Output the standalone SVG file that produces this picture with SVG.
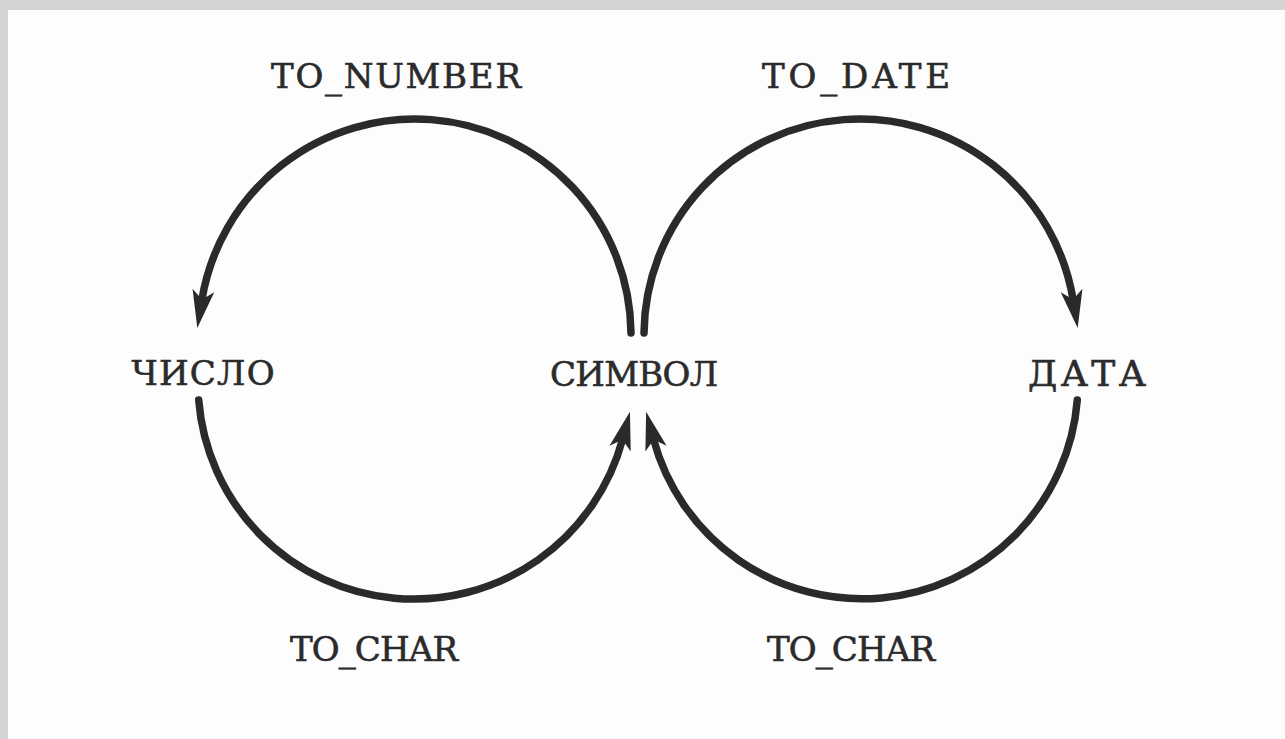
<svg xmlns="http://www.w3.org/2000/svg" width="1285" height="739" viewBox="0 0 1285 739">
<style>
.lbl{font-family:"DejaVu Serif","Liberation Serif",serif;font-size:34px;fill:#2b2b2b;stroke:#2b2b2b;stroke-width:0.6;text-anchor:middle}
.arc{fill:none;stroke:#2a2a2a;stroke-width:7.5;stroke-linecap:round;marker-end:url(#ah)}
</style>
<defs>
<marker id="ah" markerUnits="userSpaceOnUse" markerWidth="40" markerHeight="30" viewBox="-40 -15 40 30" refX="-28" refY="0" orient="auto">
<path d="M0,0 L-38,-11 L-29,0 L-38,11 Z" fill="#2a2a2a"/>
</marker>
</defs>
<rect x="0" y="0" width="1285" height="739" fill="#d4d4d4"/>
<rect x="8" y="10" width="1277" height="729" fill="#fdfdfd"/>
<g id="connectors">
<path id="to_number" class="arc" d="M631,333 A216,216 0 0 0 201.8,300.4"/>
<path id="to_date" class="arc" d="M644,333 A216,216 0 0 1 1073.2,300.4"/>
<path id="to_char_num" class="arc" d="M198.7,400 A216,216 0 0 0 622.7,438.9"/>
<path id="to_char_date" class="arc" d="M1077.3,400 A216,216 0 0 1 653.4,438.9"/>
</g>
<g id="labels">
<text class="lbl" x="396" y="88" textLength="250" lengthAdjust="spacing">TO_NUMBER</text>
<text class="lbl" x="856" y="88" textLength="188" lengthAdjust="spacing">TO_DATE</text>
<text class="lbl" x="374" y="661" textLength="168" lengthAdjust="spacing">TO_CHAR</text>
<text class="lbl" x="851" y="661" textLength="168" lengthAdjust="spacing">TO_CHAR</text>
</g>
<g id="node-number"><text class="lbl" x="203" y="385" textLength="143" lengthAdjust="spacing">ЧИСЛО</text></g>
<g id="node-symbol"><text class="lbl" x="634" y="386" textLength="168" lengthAdjust="spacing">СИМВОЛ</text></g>
<g id="node-date"><text class="lbl" x="1087" y="386" style="font-size:36px" textLength="118" lengthAdjust="spacing">ДАТА</text></g>
</svg>
